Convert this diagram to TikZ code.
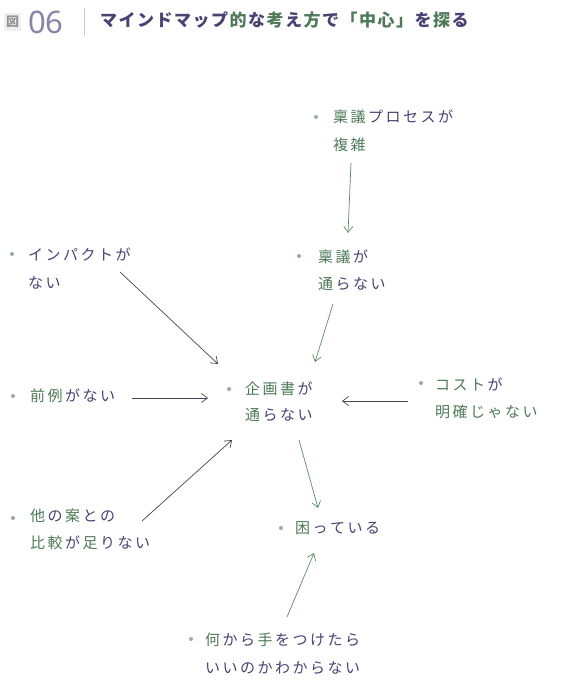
\documentclass[tikz,border=0pt]{standalone}
\usepackage{fontspec}
\usetikzlibrary{arrows.meta}
\newfontfamily\jp{Noto Sans CJK JP}
\newfontfamily\numf{Noto Sans}
\definecolor{kg}{HTML}{4E7A58}
\definecolor{kp}{HTML}{4A4272}
\definecolor{tp}{HTML}{8A82A8}
\definecolor{arrg}{HTML}{5E8A66}
\definecolor{arrd}{HTML}{4A4458}
\newdimen\lsp \lsp=2.5pt
\def\spacedaux#1{\ifx#1\relax\else #1\kern\lsp\expandafter\spacedaux\fi}
\newcommand\spaced[1]{\spacedaux#1\relax}
\newcommand\kg[1]{\textcolor{kg}{\spaced{#1}}}
\newcommand\kp[1]{\textcolor{kp}{\spaced{#1}}}
\tikzset{
  lbl/.style={anchor=west, inner sep=0pt, font=\jp\fontsize{15}{17}\selectfont},
  dot/.style={circle, fill=kg!60, inner sep=0pt, minimum size=4pt},
  garr/.style={draw=arrg, line width=0.7pt, -{Straight Barb[length=6pt,width=9pt]}},
  darr/.style={draw=arrd, line width=0.7pt, -{Straight Barb[length=6pt,width=9pt]}},
}
\begin{document}
\begin{tikzpicture}[x=1pt,y=-1pt]
\useasboundingbox (0,0) rectangle (565,691);
\fill[white] (0,0) rectangle (565,691);
\fill[gray!12] (4,13) rectangle (21,31);
% header
\node[anchor=center, inner sep=0pt, text=gray!85, font=\jp\bfseries\fontsize{13}{15}\selectfont] (fig) at (12.5,22) {図};
\node[anchor=west, inner sep=0pt, text=tp, font=\numf\fontsize{31}{33}\selectfont] (num) at (28,22) {06};
\draw[gray!40, line width=0.8pt] (84,8) -- (84,36);
\node[anchor=west, inner sep=0pt, font=\jp\bfseries\fontsize{17}{19}\selectfont, /utils/exec={\lsp=1.5pt}] (title) at (100,20)
 {\kp{マインドマップ}\kg{的}\kp{な}\kg{考}\kp{え}\kg{方}\kp{で}\kg{「中心」}\kp{を}\kg{探}\kp{る}};
% nodes
\node[dot] (b1) at (316,117) {};
\node[lbl] (t1a) at (333,117) {\kg{稟議}\kp{プロセスが}};
\node[lbl] (t1b) at (333,145) {\kg{複雑}};
\node[dot] (b2) at (299,256) {};
\node[lbl] (t2a) at (318,257) {\kg{稟議}\kp{が}};
\node[lbl] (t2b) at (318,284) {\kg{通}\kp{らない}};
\node[dot] (b3) at (12,254) {};
\node[lbl] (t3a) at (28,254) {\kp{インパクトが}};
\node[lbl] (t3b) at (28,283) {\kp{ない}};
\node[dot] (b4) at (13,396) {};
\node[lbl] (t4) at (30,396) {\kg{前例}\kp{がない}};
\node[dot] (b5) at (229,389) {};
\node[lbl] (t5a) at (245,389) {\kg{企画書}\kp{が}};
\node[lbl] (t5b) at (245,415) {\kg{通}\kp{らない}};
\node[dot] (b6) at (421,383) {};
\node[lbl] (t6a) at (435,384) {\kg{コスト}\kp{が}};
\node[lbl] (t6b) at (435,412) {\kg{明確じゃない}};
\node[dot] (b7) at (281,528) {};
\node[lbl] (t7) at (295,528) {\kg{困}\kp{っている}};
\node[dot] (b8) at (13,518) {};
\node[lbl] (t8a) at (30,516) {\kg{他}\kp{の}\kg{案}\kp{との}};
\node[lbl] (t8b) at (30,543) {\kg{比較}\kp{が}\kg{足}\kp{りない}};
\node[dot] (b9) at (191,639) {};
\node[lbl] (t9a) at (205,640) {\kg{何}\kp{から}\kg{手}\kp{をつけたら}};
\node[lbl] (t9b) at (205,668) {\kp{いいのかわからない}};
% arrow endpoints
\coordinate (a1s) at (351,163); \coordinate (a1e) at (348,233);
\coordinate (a2s) at (333,304); \coordinate (a2e) at (315,362);
\coordinate (a3s) at (120,272); \coordinate (a3e) at (218,364);
\coordinate (a4s) at (132,398); \coordinate (a4e) at (208,398);
\coordinate (a5s) at (408,401); \coordinate (a5e) at (342,401);
\coordinate (a6s) at (299,440); \coordinate (a6e) at (318,508);
\coordinate (a7s) at (142,521); \coordinate (a7e) at (232,440);
\coordinate (a8s) at (287,617); \coordinate (a8e) at (314,553);
\draw[garr] (a1s) -- (a1e);
\draw[garr] (a2s) -- (a2e);
\draw[darr] (a3s) -- (a3e);
\draw[darr] (a4s) -- (a4e);
\draw[darr] (a5s) -- (a5e);
\draw[garr] (a6s) -- (a6e);
\draw[darr] (a7s) -- (a7e);
\draw[garr] (a8s) -- (a8e);
\end{tikzpicture}
\end{document}
